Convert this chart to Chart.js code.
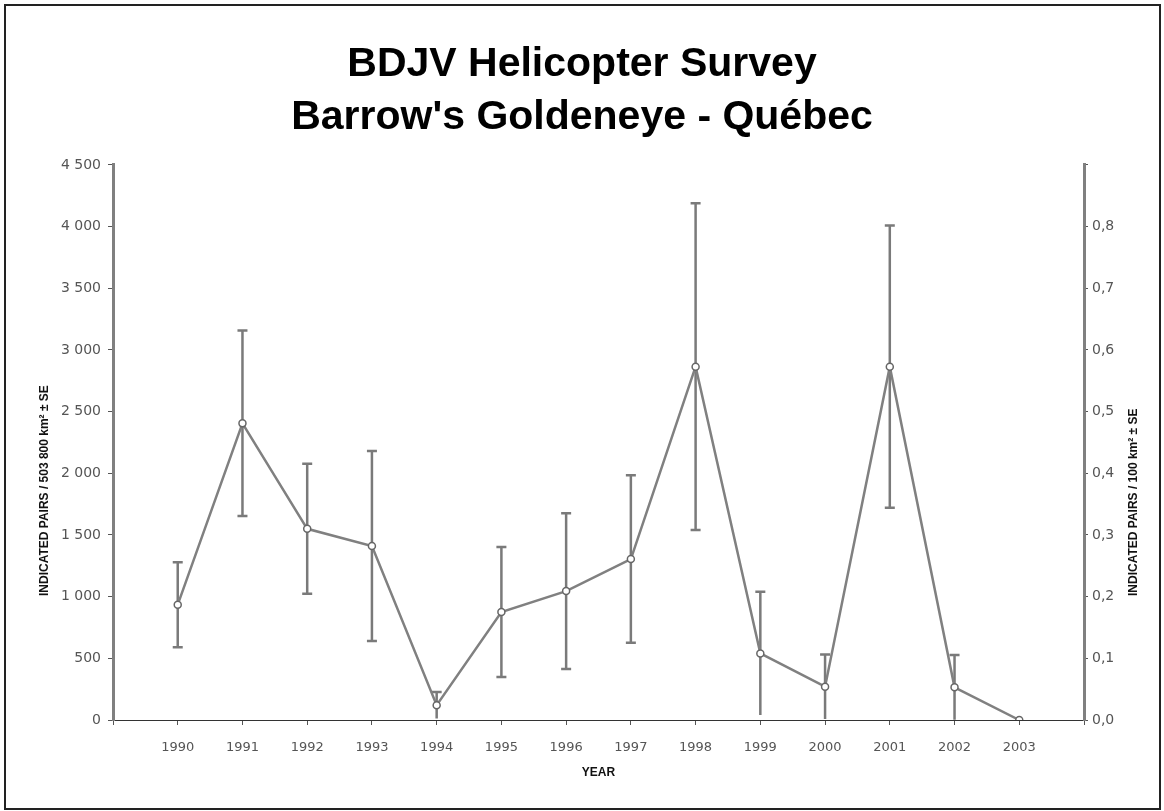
<!DOCTYPE html>
<html><head><meta charset="utf-8">
<script src="https://cdn.jsdelivr.net/npm/chart.js@4/dist/chart.umd.min.js"></script>
<style>html,body{margin:0;padding:0;background:#fff}#wrap{width:1164px;height:811px;position:relative}</style>
</head><body><div id="wrap"><canvas id="c"></canvas></div>
<script>
const years = [1990,1991,1992,1993,1994,1995,1996,1997,1998,1999,2000,2001,2002,2003];
const pairs = [935,2405,1550,1410,120,875,1045,1305,2865,540,270,2865,265,0];
const pairsSE = [345,752,527,770,107,527,631,679,1325,500,262,1144,262,0];
const titleLines = ['BDJV Helicopter Survey', "Barrow's Goldeneye - Québec"];
const leftTitle = 'INDICATED PAIRS / 503 800 km² ± SE';
const rightTitle = 'INDICATED PAIRS / 100 km² ± SE';
const xTitle = 'YEAR';
const leftRange = [0, 4500, 500];
const rightRange = [0, 0.9, 0.1];
const xRange = [1989, 2004];

const SANS = '"Liberation Sans", Arial, sans-serif';
const TICKF = '"DejaVu Sans", Verdana, sans-serif';

const errorBars = {
  id: 'errorBars',
  beforeDatasetsDraw(chart) {
    const {ctx, scales: {x, y}} = chart;
    ctx.save();
    ctx.strokeStyle = '#7a7a7a';
    ctx.lineWidth = 2.5;
    for (let i = 0; i < years.length; i++) {
      if (!pairsSE[i]) continue;
      const px = x.getPixelForValue(years[i]);
      const hiV = pairs[i] + pairsSE[i];
      const loV = Math.max(0, pairs[i] - pairsSE[i]);
      const hi = y.getPixelForValue(hiV);
      const lo = y.getPixelForValue(loV);
      ctx.beginPath();
      ctx.moveTo(px, hi); ctx.lineTo(px, lo);
      ctx.moveTo(px - 5, hi); ctx.lineTo(px + 5, hi);
      if (y.getPixelForValue(0) - lo > 10) { ctx.moveTo(px - 5, lo); ctx.lineTo(px + 5, lo); }
      ctx.stroke();
    }
    ctx.restore();
  }
};

const extras = {
  id: 'extras',
  afterDraw(chart) {
    const {ctx, chartArea: a} = chart;
    ctx.save();
    ctx.fillStyle = '#111';
    ctx.font = 'bold 12px ' + SANS;
    ctx.textBaseline = 'middle';
    ctx.textAlign = 'left';
    ctx.save();
    ctx.translate(45, a.bottom - 124);
    ctx.rotate(-Math.PI / 2);
    ctx.fillText(leftTitle, 0, 0);
    ctx.restore();
    ctx.save();
    ctx.translate(1134, a.bottom - 124);
    ctx.rotate(-Math.PI / 2);
    ctx.fillText(rightTitle, 0, 0);
    ctx.restore();
    ctx.strokeStyle = '#222';
    ctx.lineWidth = 2;
    ctx.strokeRect(5, 5, 1155, 804);
    ctx.restore();
  }
};

const fmtThousands = v => String(v).replace(/\B(?=(\d{3})+(?!\d))/g, ' ');

new Chart(document.getElementById('c'), {
  type: 'line',
  data: {
    datasets: [{
      data: years.map((yr, i) => ({x: yr, y: pairs[i]})),
      borderColor: '#808080',
      borderWidth: 2.5,
      pointRadius: 3.5,
      pointBackgroundColor: '#fff',
      pointBorderColor: '#666',
      pointBorderWidth: 1.5,
      tension: 0,
      yAxisID: 'y'
    }]
  },
  options: {
    responsive: true,
    maintainAspectRatio: false,
    animation: false,
    layout: {padding: 0},
    plugins: {
      legend: {display: false},
      tooltip: {enabled: false},
      title: {
        display: true,
        text: titleLines,
        color: '#000',
        font: {family: SANS, size: 41, weight: 'bold', lineHeight: 1.29},
        padding: {top: 38.5, bottom: 20.7}
      }
    },
    scales: {
      x: {
        type: 'linear',
        min: xRange[0], max: xRange[1],
        afterFit(s) { s.height = 91; },
        grid: {drawOnChartArea: false, tickLength: 5, color: '#555'},
        border: {color: '#333', width: 1},
        ticks: {
          stepSize: 1, autoSkip: false, maxRotation: 0, padding: 15,
          color: '#555', font: {family: TICKF, size: 13},
          callback: v => (v >= years[0] && v <= years[years.length - 1]) ? String(v) : ''
        },
        title: {display: true, text: xTitle, color: '#111',
          font: {family: SANS, size: 12, weight: 'bold'}, padding: {top: 0, bottom: 31}}
      },
      y: {
        position: 'left',
        min: leftRange[0], max: leftRange[1],
        afterFit(s) { s.width = 113; },
        grid: {drawOnChartArea: false, tickLength: 5, color: '#555'},
        border: {color: '#808080', width: 3},
        ticks: {stepSize: leftRange[2], padding: 7, color: '#555',
          font: {family: TICKF, size: 14}, callback: v => fmtThousands(v)}
      },
      y1: {
        position: 'right',
        min: rightRange[0], max: rightRange[1],
        afterFit(s) { s.width = 80; },
        grid: {drawOnChartArea: false, tickLength: 4, color: '#555'},
        border: {color: '#808080', width: 3},
        ticks: {stepSize: rightRange[2], padding: 4, color: '#555',
          font: {family: TICKF, size: 14},
          callback: v => v > 0.85 ? '' : v.toFixed(1).replace('.', ',')}
      }
    }
  },
  plugins: [errorBars, extras]
});
</script></body></html>
